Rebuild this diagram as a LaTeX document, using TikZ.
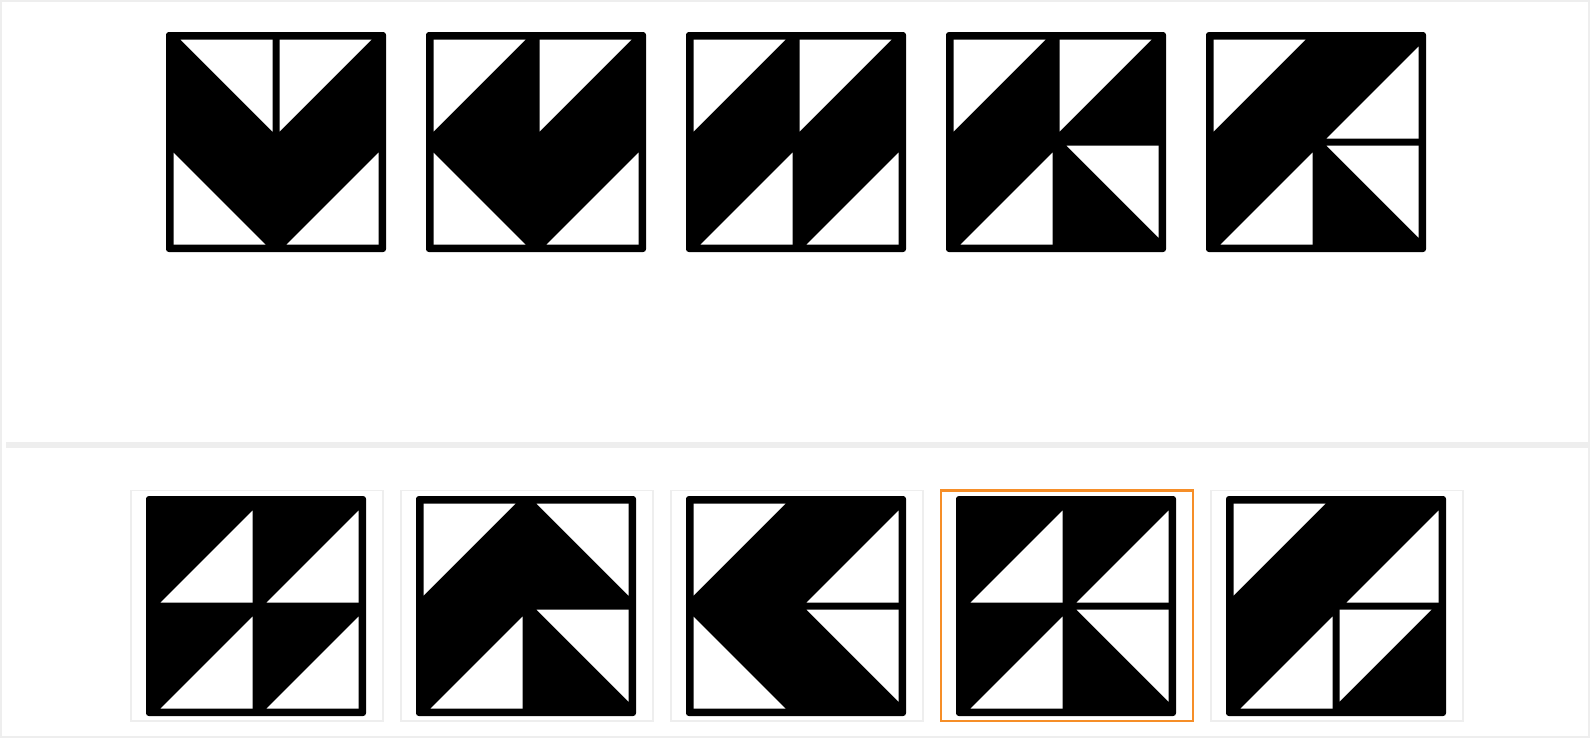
\documentclass[tikz,border=0pt]{standalone}
\usepackage{tikz}
\usetikzlibrary{positioning}
\definecolor{framegray}{RGB}{238,238,238}
\definecolor{pickorange}{RGB}{246,142,40}

% black block with one white triangle per cell (cells TL, TR, BL, BR)
% each corner given as sx/sy: 0/0 = top left, 1/1 = bottom right
\newcommand{\tileblock}[3]{%
  \fill[rounded corners=0.8pt] (#1,#2) rectangle ++(220,220);
  \foreach \sx/\sy [count=\k from 0] in {#3} {
    \pgfmathtruncatemacro{\col}{mod(\k,2)}
    \pgfmathtruncatemacro{\row}{\k/2}
    \fill[white] ({#1+7.5+\col*106+\sx*99},{#2+7.5+\row*106+\sy*99})
      -- ++({(1-2*\sx)*92},0) -- ++({-(1-2*\sx)*92},{(1-2*\sy)*92}) -- cycle;
  }}

\begin{document}
\begin{tikzpicture}[x=0.01cm, y=-0.01cm,
    panel/.style={draw=framegray, line width=0.57pt},
    choice/.style={draw=framegray, line width=0.43pt},
    picked/.style={draw=pickorange, line width=0.6pt}]
    \useasboundingbox (0,0) rectangle (1590,738);
    % Outer frame and divider
    \draw[panel] (1,1) rectangle (1589,737);
    \fill[framegray] (6,442) rectangle (1588,448);

    % Question row
    \tileblock{166}{32}{1/0, 0/0, 0/1, 1/1}
    \tileblock{426}{32}{0/0, 0/0, 0/1, 1/1}
    \tileblock{686}{32}{0/0, 0/0, 1/1, 1/1}
    \tileblock{946}{32}{0/0, 0/0, 1/1, 1/0}
    \tileblock{1206}{32}{0/0, 1/1, 1/1, 1/0}

    % Answer frames
    \draw[choice] (131,490.5) rectangle ++(252,230.5);
    \draw[choice] (401,490.5) rectangle ++(252,230.5);
    \draw[choice] (671,490.5) rectangle ++(252,230.5);
    \draw[picked] (941,490.5) rectangle ++(252,230.5);
    \draw[choice] (1211,490.5) rectangle ++(252,230.5);

    % Answer row
    \tileblock{146}{496}{1/1, 1/1, 1/1, 1/1}
    \tileblock{416}{496}{0/0, 1/0, 1/1, 1/0}
    \tileblock{686}{496}{0/0, 1/1, 0/1, 1/0}
    \tileblock{956}{496}{1/1, 1/1, 1/1, 1/0}
    \tileblock{1226}{496}{0/0, 1/1, 1/1, 0/0}
\end{tikzpicture}
\end{document}
